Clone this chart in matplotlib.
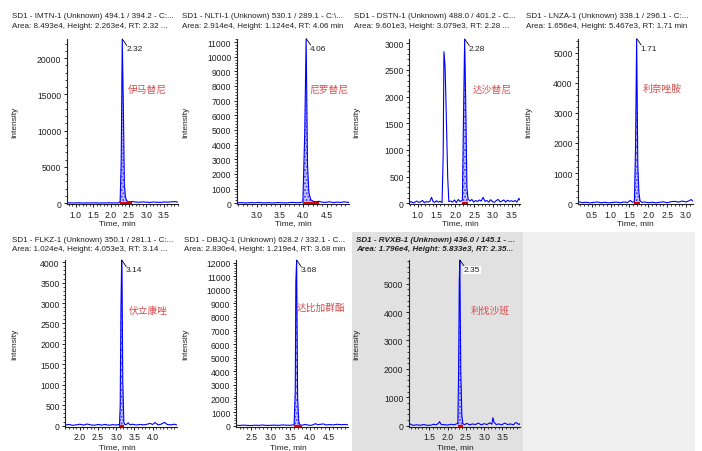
import matplotlib
matplotlib.use('Agg')
import matplotlib.pyplot as plt
from matplotlib.ticker import MultipleLocator, AutoMinorLocator, FormatStrFormatter
from matplotlib.patches import Rectangle

plt.rcParams['font.family'] = ['Liberation Sans', 'DejaVu Sans']

# ---- chromatogram data (time, min / intensity, cps) ----
imtn_t = [0.75, 0.85, 0.95, 1.05, 1.15, 1.25, 1.35, 1.45, 1.55, 1.65, 1.75, 1.85, 1.95, 2.05, 2.15,
          2.22, 2.26, 2.29, 2.32, 2.35, 2.38, 2.41, 2.44, 2.48, 2.53, 2.60, 2.70, 2.80, 2.90, 3.00,
          3.10, 3.20, 3.30, 3.40, 3.50, 3.60, 3.70, 3.80, 3.90]
imtn_y = [30, 50, 20, 60, 40, 20, 50, 30, 60, 20, 40, 30, 60, 30, 50,
          40, 250, 5800, 22630, 13500, 2600, 900, 380, 220, 180, 230, 160, 120, 180, 140,
          100, 160, 130, 110, 170, 140, 180, 220, 150]

nlti_t = [2.57, 2.65, 2.75, 2.85, 2.95, 3.05, 3.15, 3.25, 3.35, 3.45, 3.55, 3.65, 3.75, 3.85, 3.93,
          3.99, 4.03, 4.06, 4.09, 4.12, 4.16, 4.21, 4.27, 4.33, 4.40, 4.48, 4.56, 4.64, 4.72, 4.80,
          4.88, 4.98]
nlti_y = [20, 40, 15, 35, 30, 50, 20, 35, 15, 40, 30, 20, 55, 35, 40,
          90, 4800, 11240, 2600, 700, 240, 130, 90, 130, 70, 50, 100, 40, 70, 55,
          90, 45]

dstn_t = [0.78, 0.83, 0.88, 0.93, 0.98, 1.03, 1.08, 1.13, 1.18, 1.23, 1.28, 1.33, 1.37, 1.41, 1.45,
          1.50, 1.55, 1.60, 1.65, 1.68, 1.70, 1.73, 1.77, 1.80, 1.83, 1.88, 1.93, 1.98, 2.03, 2.08,
          2.13, 2.19, 2.22, 2.25, 2.28, 2.31, 2.34, 2.39, 2.44, 2.49, 2.54, 2.59, 2.64, 2.69, 2.74,
          2.79, 2.84, 2.89, 2.94, 2.99, 3.04, 3.09, 3.14, 3.19, 3.24, 3.29, 3.34, 3.39, 3.44, 3.49,
          3.54, 3.59, 3.64, 3.69, 3.72]
dstn_y = [10, 30, 5, 20, 40, 15, 25, 50, 10, 30, 20, 40, 110, 30, 15,
          45, 20, 35, 10, 900, 2840, 2570, 1420, 480, 30, 40, 20, 60, 10, 70,
          30, 60, 1650, 3079, 1820, 300, 80, 40, 70, 20, 50, 30, 60, 40, 110,
          35, 50, 20, 65, 30, 15, 50, 70, 25, 40, 60, 20, 55, 35, 45,
          30, 50, 20, 90, 60]

lnza_t = [0.15, 0.25, 0.35, 0.45, 0.55, 0.65, 0.75, 0.85, 0.95, 1.05, 1.15, 1.25, 1.35, 1.45, 1.52,
          1.58, 1.63, 1.66, 1.69, 1.72, 1.75, 1.78, 1.83, 1.90, 2.00, 2.10, 2.20, 2.30, 2.40, 2.50,
          2.60, 2.70, 2.80, 2.90, 3.00, 3.08, 3.13, 3.19]
lnza_y = [50, 15, 30, 10, 25, 40, 15, 30, 10, 25, 35, 15, 40, 25, 90,
          30, 50, 1800, 5467, 1300, 350, 80, 25, 40, 15, 30, 10, 30, 45, 15,
          50, 60, 35, 70, 40, 80, 120, 60]

flkz_t = [1.60, 1.70, 1.80, 1.90, 2.00, 2.10, 2.20, 2.30, 2.40, 2.50, 2.60, 2.70, 2.80, 2.90, 3.00,
          3.06, 3.09, 3.11, 3.13, 3.15, 3.16, 3.18, 3.21, 3.24, 3.28, 3.33, 3.38, 3.45, 3.55, 3.65,
          3.75, 3.85, 3.93, 4.00, 4.07, 4.15, 4.23, 4.33, 4.40, 4.50, 4.60, 4.68]
flkz_y = [15, 30, 10, 20, 35, 15, 40, 20, 10, 30, 15, 30, 10, 25, 15,
          30, 15, 500, 2850, 4053, 3720, 1120, 90, 25, 30, 70, 20, 35, 15, 30,
          20, 35, 55, 30, 75, 20, 35, 80, 30, 20, 35, 15]

dbjq_t = [2.11, 2.20, 2.30, 2.40, 2.50, 2.60, 2.70, 2.80, 2.90, 3.00, 3.10, 3.20, 3.30, 3.40, 3.50,
          3.57, 3.60, 3.63, 3.645, 3.665, 3.69, 3.72, 3.75, 3.80, 3.88, 3.96, 4.04, 4.10, 4.15, 4.20,
          4.28, 4.35, 4.42, 4.50, 4.60, 4.70, 4.80, 4.90, 4.99]
dbjq_y = [30, 15, 40, 20, 10, 35, 20, 50, 15, 30, 40, 20, 55, 35, 30,
          60, 40, 2600, 10600, 12190, 2100, 300, 50, 30, 90, 40, 25, 80, 150, 70,
          100, 130, 50, 80, 55, 100, 70, 90, 60]

rvxb_t = [0.94, 0.98, 1.05, 1.15, 1.25, 1.35, 1.45, 1.55, 1.62, 1.68, 1.74, 1.78, 1.83, 1.90, 2.00,
          2.10, 2.18, 2.24, 2.28, 2.30, 2.32, 2.335, 2.36, 2.39, 2.42, 2.47, 2.53, 2.60, 2.68, 2.76,
          2.84, 2.92, 3.00, 3.08, 3.15, 3.21, 3.24, 3.27, 3.33, 3.40, 3.48, 3.56, 3.64, 3.72, 3.80,
          3.86, 3.90, 3.95, 3.98]
rvxb_y = [20, 60, 10, 30, 15, 40, 10, 20, 50, 30, 70, 140, 30, 40, 20,
          50, 30, 60, 80, 1760, 5100, 5833, 1960, 350, 60, 40, 80, 30, 60, 40,
          90, 30, 70, 40, 100, 50, 280, 120, 40, 60, 30, 90, 40, 60, 30,
          110, 90, 40, 70]

titles = [
    ("SD1 - IMTN-1 (Unknown) 494.1 / 394.2 - C:...", "Area: 8.493e4, Height: 2.263e4, RT: 2.32 ..."),
    ("SD1 - NLTI-1 (Unknown) 530.1 / 289.1 - C:\\...", "Area: 2.914e4, Height: 1.124e4, RT: 4.06 min"),
    ("SD1 - DSTN-1 (Unknown) 488.0 / 401.2 - C...", "Area: 9.601e3, Height: 3.079e3, RT: 2.28 ..."),
    ("SD1 - LNZA-1 (Unknown) 338.1 / 296.1 - C:...", "Area: 1.656e4, Height: 5.467e3, RT: 1.71 min"),
    ("SD1 - FLKZ-1 (Unknown) 350.1 / 281.1 - C:...", "Area: 1.024e4, Height: 4.053e3, RT: 3.14 ..."),
    ("SD1 - DBJQ-1 (Unknown) 628.2 / 332.1 - C...", "Area: 2.830e4, Height: 1.219e4, RT: 3.68 min"),
    ("SD1 - RVXB-1 (Unknown) 436.0 / 145.1 - ...", "Area: 1.796e4, Height: 5.833e3, RT: 2.35..."),
]
drug_names = ["伊马替尼", "尼罗替尼", "达沙替尼", "利奈唑胺", "伏立康唑", "达比加群酯", "利伐沙班"]
rt_labels = ["2.32", "4.06", "2.28", "1.71", "3.14", "3.68", "2.35"]
series = [(imtn_t, imtn_y), (nlti_t, nlti_y), (dstn_t, dstn_y), (lnza_t, lnza_y),
          (flkz_t, flkz_y), (dbjq_t, dbjq_y), (rvxb_t, rvxb_y)]
peak_windows = [(2.26, 2.60), (3.99, 4.33), (2.19, 2.34), (1.63, 1.78), (3.09, 3.21), (3.60, 3.80), (2.28, 2.42)]
x_limits = [(0.745, 3.9), (2.57, 4.98), (0.78, 3.72), (0.145, 3.19), (1.6, 4.68), (2.11, 4.99), (0.945, 3.98)]
x_ticks = [[1.0, 1.5, 2.0, 2.5, 3.0, 3.5], [3.0, 3.5, 4.0, 4.5], [1.0, 1.5, 2.0, 2.5, 3.0, 3.5],
           [0.5, 1.0, 1.5, 2.0, 2.5, 3.0], [2.0, 2.5, 3.0, 3.5, 4.0], [2.5, 3.0, 3.5, 4.0, 4.5],
           [1.5, 2.0, 2.5, 3.0, 3.5]]
y_steps = [5000, 1000, 500, 1000, 500, 1000, 1000]

# ---- layout in pixels (left, top, right, bottom of plot area) ----
W, H = 702, 452
boxes = [(66.7, 40, 178, 205), (236.7, 39.5, 349, 205), (409.3, 40, 520, 205), (578.3, 39.5, 693.3, 205),
         (65.3, 261, 177.3, 427.5), (236, 261, 348.3, 427.5), (409, 261, 520, 427.5)]
title_pos = [(12, 16), (182, 16), (354, 16), (526, 16), (12, 240), (184, 240), (356, 240)]
ylab_x = [15, 186, 357, 529, 15, 186, 357]
xlab_pos = [(117, 224), (293, 224), (460, 224), (635, 224), (117, 448), (288, 448), (455, 448)]
name_pos = [(147.5, 90), (329, 90), (492, 90), (662, 89), (148, 311), (321, 308), (490, 311)]

fig = plt.figure(figsize=(W / 100, H / 100), dpi=100)
fig.patch.set_facecolor('white')

# grey selected panel + empty slot
sel_grey = '#e1e1e1'
fig.add_artist(Rectangle((352 / W, 0), (523 - 352) / W, 1 - 233 / H, transform=fig.transFigure,
                         facecolor=sel_grey, edgecolor='none', zorder=0))
fig.add_artist(Rectangle((523 / W, 0), (695 - 523) / W, 1 - 233 / H, transform=fig.transFigure,
                         facecolor='#f0f0f0', edgecolor='none', zorder=0))

for i, (t, y) in enumerate(series):
    l, tp, r, b = boxes[i]
    ax = fig.add_axes([l / W, 1 - b / H, (r - l) / W, (b - tp) / H])
    ymax = max(y)
    ax.set_facecolor(sel_grey if i == 6 else 'white')
    ax.patch.set_alpha(1.0 if i == 6 else 0.0)

    # peak integration fill
    s, e = peak_windows[i]
    pt = [tt for tt in t if s <= tt <= e]
    py = [yy for tt, yy in zip(t, y) if s <= tt <= e]
    ax.fill_between(pt, 0, py, facecolor='#c8c8ff', edgecolor='#3a3aff', hatch='.....', lw=0, zorder=1)
    ax.plot(t, y, color='#0000ff', lw=0.8, zorder=2)
    ax.plot([s, e], [0, 0], color='#e00000', lw=1.6, zorder=3, solid_capstyle='butt')

    # apex marker
    apex_t = t[y.index(ymax)]
    ax.annotate('', xy=(apex_t, ymax), xytext=(4.5, -6.5), textcoords='offset pixels',
                arrowprops=dict(arrowstyle='-', lw=0.6, color='black', shrinkA=0, shrinkB=0),
                annotation_clip=False)
    ax.annotate(rt_labels[i], xy=(apex_t, ymax), xytext=(4, -10), textcoords='offset pixels',
                ha='left', va='center', fontsize=6, color='#202020', annotation_clip=False,
                bbox=dict(boxstyle='square,pad=0.1', fc='white', ec='none') if i == 6 else None)

    ax.set_xlim(*x_limits[i])
    ax.set_ylim(-0.005 * ymax, ymax)
    ax.set_xticks(x_ticks[i])
    ax.xaxis.set_major_formatter(FormatStrFormatter('%.1f'))
    ax.yaxis.set_major_locator(MultipleLocator(y_steps[i]))
    ax.xaxis.set_minor_locator(MultipleLocator(0.1))
    ax.yaxis.set_minor_locator(AutoMinorLocator(5))
    ax.tick_params(which='major', length=2.5, width=0.7, labelsize=6.2, pad=1.5, colors='#202020')
    ax.tick_params(which='minor', length=1.3, width=0.6, colors='#202020')
    for side in ['top', 'right']:
        ax.spines[side].set_visible(False)
    for side in ['left', 'bottom']:
        ax.spines[side].set_linewidth(0.8)
        ax.spines[side].set_color('#202020')

    # titles and axis labels
    tx, ty = title_pos[i]
    style = dict(fontsize=5.8, color='#202020', ha='left', va='center')
    if i == 6:
        style.update(fontweight='bold', fontstyle='italic')
    fig.text(tx / W, 1 - ty / H, titles[i][0], **style)
    fig.text(tx / W, 1 - (ty + 10) / H, titles[i][1], **style)
    fig.text(ylab_x[i] / W, 1 - ((tp + b) / 2) / H, 'Intensity', rotation=90, fontsize=6,
             ha='center', va='center', color='#202020')
    fig.text(xlab_pos[i][0] / W, 1 - xlab_pos[i][1] / H, 'Time, min', fontsize=6,
             ha='center', va='center', color='#202020')
    nx, ny = name_pos[i]
    fig.text(nx / W, 1 - ny / H, drug_names[i], fontsize=7, color='#d84a4a', ha='center', va='center',
             family=['Noto Sans CJK SC', 'DejaVu Sans'])

fig.savefig('out.png', dpi=100)
